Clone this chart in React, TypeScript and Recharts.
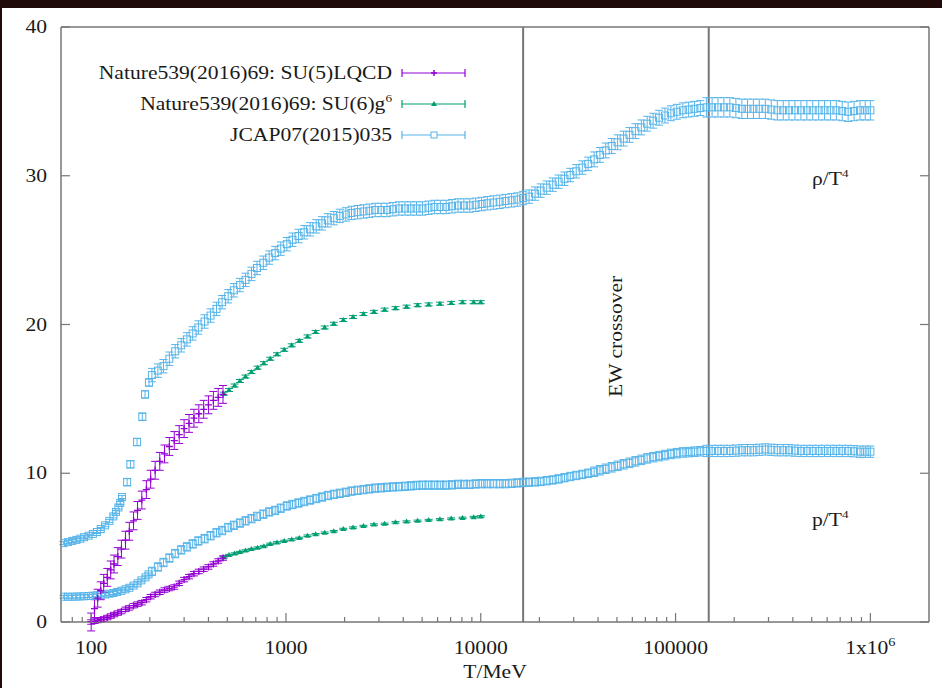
import React from 'react';
import { ScatterChart, Scatter, XAxis, YAxis, ErrorBar, ReferenceLine, ReferenceDot, Legend } from 'recharts';

const FONT = '"Liberation Serif", "Times New Roman", serif';
const INK = '#1a1a1a';
const FRAME = '#767676';
const PURPLE = '#9400d3';
const GREEN = '#009e73';
const BLUE = '#56b4e9';

// axis ticks
const majorTicks = [100, 1000, 10000, 100000, 1000000];
const minorTicks = [
  80, 90, 200, 300, 400, 500, 600, 700, 800, 900,
  2000, 3000, 4000, 5000, 6000, 7000, 8000, 9000,
  20000, 30000, 40000, 50000, 60000, 70000, 80000, 90000,
  200000, 300000, 400000, 500000, 600000, 700000, 800000, 900000,
];
const xTicks = [...minorTicks, ...majorTicks].sort((a, b) => a - b);
const yTicks = [0, 10, 20, 30, 40];

// EW crossover lines (MeV)
const ewLines = [16500, 148000];

// JCAP07(2015)035, rho/T^4 : [T, value]
const jcapRho: [number, number][] = [
  [72, 5.3], [76, 5.37], [80, 5.45], [84, 5.52], [88, 5.6], [92, 5.7], [97, 5.8], [102, 5.92], [107, 6.05],
  [112, 6.25], [118, 6.5], [124, 6.8], [130, 7.1], [134, 7.4], [138, 7.7], [141, 8.0], [144, 8.4],
  [153, 9.4], [159, 10.6], [172, 12.1], [183, 13.8], [189, 15.3], [198, 16.1],
  [205, 16.6], [220, 16.9], [235, 17.2], [252, 17.7], [270, 18.2], [290, 18.6], [310, 19.0], [332, 19.4],
  [355, 19.8], [382, 20.2], [410, 20.6], [440, 21.05], [470, 21.5], [505, 21.9], [540, 22.3], [580, 22.65],
  [620, 23.0], [665, 23.4], [710, 23.8], [765, 24.15], [820, 24.5], [880, 24.8], [940, 25.1], [1010, 25.4],
  [1080, 25.7], [1160, 25.95], [1240, 26.2], [1330, 26.4], [1430, 26.6], [1530, 26.8], [1640, 27.0], [1760, 27.15],
  [1890, 27.3], [2030, 27.4], [2170, 27.5], [2330, 27.55], [2500, 27.6], [2680, 27.65], [2870, 27.7], [3080, 27.7],
  [3300, 27.7], [3540, 27.75], [3800, 27.8], [4080, 27.8], [4370, 27.8], [4680, 27.8], [5020, 27.8], [5390, 27.85],
  [5780, 27.9], [6200, 27.9], [6640, 27.9], [7120, 27.95], [7640, 28.0], [8190, 28.0], [8780, 28.0], [9420, 28.05],
  [10100, 28.1], [10800, 28.15], [11600, 28.2], [12500, 28.25], [13400, 28.3], [14400, 28.35], [15400, 28.4], [16500, 28.5],
  [17700, 28.6], [19000, 28.8], [20300, 29.0], [21800, 29.2], [23400, 29.4], [25100, 29.6], [26900, 29.8], [28800, 30.05],
  [30900, 30.3], [33200, 30.55], [35600, 30.8], [38200, 31.1], [40900, 31.4], [43800, 31.7], [47000, 32.0], [50400, 32.25],
  [54100, 32.5], [58000, 32.75], [62200, 33.0], [66700, 33.25], [71500, 33.5], [76700, 33.7], [82300, 33.9], [88200, 34.05],
  [94600, 34.2], [101500, 34.3], [109000, 34.4], [116700, 34.45], [125000, 34.5], [134000, 34.55], [144000, 34.6], [154000, 34.6],
  [165000, 34.6], [177000, 34.6], [190000, 34.6], [204000, 34.55], [219000, 34.5], [234000, 34.5], [251000, 34.5], [269000, 34.5],
  [289000, 34.5], [310000, 34.45], [333000, 34.4], [357000, 34.4], [382000, 34.4], [410000, 34.4], [440000, 34.4], [472000, 34.4],
  [506000, 34.4], [543000, 34.4], [582000, 34.4], [624000, 34.4], [669000, 34.4], [717000, 34.35], [769000, 34.3], [825000, 34.35],
  [885000, 34.4], [941000, 34.4], [1000000, 34.4],
];
// error bar half-height, by temperature band: [from T, err]
const jcapRhoErr: [number, number][] = [[70, 0.1], [150, 0.25], [200, 0.45], [3000, 0.45], [38000, 0.5], [140000, 0.65]];

// JCAP07(2015)035, p/T^4 : [T, value]
const jcapP: [number, number][] = [
  [72, 1.7], [76, 1.7], [80, 1.7], [84, 1.71], [88, 1.72], [92, 1.73], [97, 1.75], [102, 1.77], [107, 1.8],
  [112, 1.83], [118, 1.85], [124, 1.9], [130, 1.95], [136, 2.02], [143, 2.1], [150, 2.2], [157, 2.3], [165, 2.45],
  [173, 2.6], [181, 2.8], [190, 3.0], [197, 3.2],
  [205, 3.4], [220, 3.7], [235, 4.0], [252, 4.3], [270, 4.6], [290, 4.85], [310, 5.05], [332, 5.25],
  [355, 5.45], [382, 5.6], [410, 5.8], [440, 6.0], [470, 6.15], [505, 6.35], [540, 6.5], [580, 6.65],
  [620, 6.8], [665, 6.95], [710, 7.1], [765, 7.25], [820, 7.4], [880, 7.5], [940, 7.65], [1010, 7.8],
  [1080, 7.9], [1160, 8.0], [1240, 8.1], [1330, 8.2], [1430, 8.3], [1530, 8.4], [1640, 8.5], [1760, 8.58],
  [1890, 8.65], [2030, 8.72], [2170, 8.8], [2330, 8.85], [2500, 8.9], [2680, 8.95], [2870, 9.0], [3080, 9.02],
  [3300, 9.05], [3540, 9.08], [3800, 9.1], [4080, 9.12], [4370, 9.15], [4680, 9.18], [5020, 9.2], [5390, 9.2],
  [5780, 9.2], [6200, 9.2], [6640, 9.2], [7120, 9.22], [7640, 9.25], [8190, 9.25], [8780, 9.25], [9420, 9.28],
  [10100, 9.3], [10800, 9.3], [11600, 9.3], [12500, 9.3], [13400, 9.3], [14400, 9.32], [15400, 9.35], [16500, 9.38],
  [17700, 9.4], [19000, 9.42], [20300, 9.45], [21800, 9.5], [23400, 9.55], [25100, 9.62], [26900, 9.7], [28800, 9.78],
  [30900, 9.85], [33200, 9.92], [35600, 10.0], [38200, 10.1], [40900, 10.2], [43800, 10.3], [47000, 10.4], [50400, 10.5],
  [54100, 10.6], [58000, 10.7], [62200, 10.8], [66700, 10.9], [71500, 11.0], [76700, 11.08], [82300, 11.15], [88200, 11.22],
  [94600, 11.3], [101500, 11.35], [109000, 11.4], [116700, 11.42], [125000, 11.45], [134000, 11.48], [144000, 11.5], [154000, 11.5],
  [165000, 11.5], [177000, 11.5], [190000, 11.5], [204000, 11.52], [219000, 11.55], [234000, 11.55], [251000, 11.55], [269000, 11.58],
  [289000, 11.6], [310000, 11.58], [333000, 11.55], [357000, 11.55], [382000, 11.55], [410000, 11.52], [440000, 11.5], [472000, 11.5],
  [506000, 11.5], [543000, 11.5], [582000, 11.5], [624000, 11.5], [669000, 11.5], [717000, 11.5], [769000, 11.5], [825000, 11.48],
  [885000, 11.45], [941000, 11.45], [1000000, 11.45],
];
const jcapPErr: [number, number][] = [[70, 0.1], [200, 0.28], [3000, 0.28], [38000, 0.32], [140000, 0.38]];

// Nature539(2016)69: SU(5) LQCD
const su5T = [100, 104, 108, 112, 116, 121, 126, 131, 137, 143, 150, 157, 165, 173, 182, 192, 202, 213, 225, 238, 252, 267, 283, 300, 318, 337, 357, 378, 400, 424, 449, 475];
const su5Rho = [0.0, 0.9, 1.6, 2.1, 2.6, 3.0, 3.5, 3.9, 4.4, 4.9, 5.5, 6.1, 6.8, 7.5, 8.2, 8.9, 9.6, 10.2, 10.8, 11.3, 11.8, 12.2, 12.6, 13.0, 13.35, 13.7, 14.0, 14.3, 14.6, 14.9, 15.1, 15.3];
const su5P = [0.0, 0.05, 0.1, 0.15, 0.2, 0.3, 0.4, 0.5, 0.6, 0.7, 0.85, 0.95, 1.1, 1.2, 1.3, 1.5, 1.7, 1.85, 2.0, 2.15, 2.25, 2.35, 2.6, 2.85, 3.05, 3.25, 3.4, 3.55, 3.7, 3.9, 4.1, 4.3];

// Nature539(2016)69: SU(6) g^6
const su6T = [480, 510, 545, 580, 620, 665, 715, 770, 830, 900, 980, 1070, 1170, 1290, 1420, 1580, 1760, 1970, 2210, 2500, 2830, 3210, 3650, 4160, 4740, 5400, 6170, 7050, 8060, 9200, 10000];
const su6Rho = [15.35, 15.6, 15.9, 16.2, 16.5, 16.8, 17.1, 17.4, 17.7, 18.0, 18.3, 18.6, 18.9, 19.2, 19.5, 19.8, 20.05, 20.3, 20.5, 20.7, 20.85, 21.0, 21.1, 21.2, 21.3, 21.35, 21.4, 21.45, 21.5, 21.5, 21.5];
const su6P = [4.35, 4.5, 4.6, 4.7, 4.8, 4.9, 5.0, 5.1, 5.25, 5.35, 5.45, 5.55, 5.65, 5.8, 5.9, 6.0, 6.1, 6.25, 6.35, 6.45, 6.55, 6.6, 6.7, 6.75, 6.8, 6.85, 6.9, 6.95, 7.0, 7.05, 7.1];

const errAt = (bands: [number, number][], t: number) => {
  let e = bands[0][1];
  for (const [from, err] of bands) if (t >= from) e = err;
  return e;
};
const pairRows = (pts: [number, number][], bands: [number, number][]) =>
  pts.map(([t, v]) => ({ t, v, e: errAt(bands, t) }));
const rows = (ts: number[], ys: number[], e: number) => ts.map((t, i) => ({ t, v: ys[i], e }));

const MAJOR_LEN = 9;
const MINOR_LEN = 5;

function Square(props: any) {
  const { cx, cy } = props;
  return <rect x={cx - 3.5} y={cy - 3.5} width={7} height={7} fill="none" stroke={BLUE} strokeWidth={1} />;
}
function Cross(props: any) {
  const { cx, cy } = props;
  return <path d={`M${cx - 3.5},${cy}h7M${cx},${cy - 3.5}v7`} stroke={PURPLE} strokeWidth={1.3} fill="none" />;
}
function Tri(props: any) {
  const { cx, cy } = props;
  return <path d={`M${cx},${cy - 3}L${cx + 3},${cy + 2}L${cx - 3},${cy + 2}Z`} fill={GREEN} />;
}

function BottomTick(props: any) {
  const { x, y, payload } = props;
  const v = payload.value;
  const major = majorTicks.includes(v);
  return (
    <g>
      <line x1={x} x2={x} y1={y} y2={y - (major ? MAJOR_LEN : MINOR_LEN)} stroke={FRAME} strokeWidth={1.2} />
      {major && (
        <text transform={`translate(${x},${y + 32}) scale(1.2,1)`} textAnchor="middle" fontFamily={FONT} fontSize={18} fill={INK}>
          {v === 1000000 ? <>1x10<tspan dy={-8} fontSize={12}>6</tspan></> : v}
        </text>
      )}
    </g>
  );
}

function TopTick(props: any) {
  const { x, y, payload } = props;
  const major = majorTicks.includes(payload.value);
  return <line x1={x} x2={x} y1={y} y2={y + (major ? MAJOR_LEN : MINOR_LEN)} stroke={FRAME} strokeWidth={1.2} />;
}

function LeftTick(props: any) {
  const { x, y, payload } = props;
  return (
    <g>
      <line x1={x} x2={x + MAJOR_LEN} y1={y} y2={y} stroke={FRAME} strokeWidth={1.2} />
      <text transform={`translate(${x - 14},${y + 6}) scale(1.2,1)`} textAnchor="end" fontFamily={FONT} fontSize={18} fill={INK}>
        {payload.value}
      </text>
    </g>
  );
}

function RightTick(props: any) {
  const { x, y } = props;
  return <line x1={x} x2={x - MAJOR_LEN} y1={y} y2={y} stroke={FRAME} strokeWidth={1.2} />;
}

function AxisTitle(props: any) {
  const { viewBox } = props;
  const cx = viewBox.x + viewBox.width / 2;
  return (
    <text transform={`translate(${cx},${viewBox.y + 56}) scale(1.2,1)`} textAnchor="middle" fontFamily={FONT} fontSize={18} fill={INK}>
      T/MeV
    </text>
  );
}

function Annot(props: any) {
  const { viewBox, text, sup, rotate } = props;
  const x = viewBox.x;
  const y = viewBox.y;
  if (rotate) {
    return (
      <text transform={`translate(${x},${y}) rotate(-90) scale(1.2,1)`} textAnchor="middle" dominantBaseline="central" fontFamily={FONT} fontSize={18} fill={INK}>
        {text}
      </text>
    );
  }
  return (
    <text transform={`translate(${x},${y}) scale(1.2,1)`} fontFamily={FONT} fontSize={18} fill={INK}>
      {text}
      {sup && <tspan dy={-8} fontSize={11}>{sup}</tspan>}
    </text>
  );
}

const legendItems = [
  { label: 'Nature539(2016)69: SU(5)LQCD', sup: '', color: PURPLE, mark: 'cross' },
  { label: 'Nature539(2016)69: SU(6)g', sup: '6', color: GREEN, mark: 'tri' },
  { label: 'JCAP07(2015)035', sup: '', color: BLUE, mark: 'square' },
];

function LegendBox() {
  return (
    <svg width={420} height={100}>
      {legendItems.map((it, i) => {
        const y = 15 + i * 31;
        const cx = 374;
        return (
          <g key={it.label}>
            <text transform={`translate(332,${y + 6}) scale(1.2,1)`} textAnchor="end" fontFamily={FONT} fontSize={18} fill={INK}>
              {it.label}
              {it.sup && <tspan dy={-8} fontSize={11}>{it.sup}</tspan>}
            </text>
            <path d={`M342,${y}H405M342,${y - 4}v8M405,${y - 4}v8`} stroke={it.color} strokeWidth={1.2} fill="none" />
            {it.mark === 'cross' && <path d={`M${cx - 3},${y}h6M${cx},${y - 3}v6`} stroke={it.color} strokeWidth={1.5} />}
            {it.mark === 'tri' && <path d={`M${cx},${y - 3}L${cx + 3},${y + 2}L${cx - 3},${y + 2}Z`} fill={it.color} />}
            {it.mark === 'square' && <rect x={cx - 3} y={y - 3} width={6} height={6} fill="white" stroke={it.color} />}
          </g>
        );
      })}
    </svg>
  );
}

export default function App() {
  const series = [
    { key: 'jr', data: pairRows(jcapRho, jcapRhoErr), color: BLUE, shape: Square },
    { key: 'jp', data: pairRows(jcapP, jcapPErr), color: BLUE, shape: Square },
    { key: 's6r', data: rows(su6T, su6Rho, 0.1), color: GREEN, shape: Tri },
    { key: 's6p', data: rows(su6T, su6P, 0.05), color: GREEN, shape: Tri },
    { key: 's5r', data: rows(su5T, su5Rho, 0.6), color: PURPLE, shape: Cross },
    { key: 's5p', data: rows(su5T, su5P, 0.15), color: PURPLE, shape: Cross },
  ];

  return (
    <div style={{ position: 'absolute', left: 0, top: 0, width: 942, height: 688, background: '#fff', overflow: 'hidden' }}>
      <ScatterChart width={942} height={688} margin={{ top: 0, right: 0, bottom: 0, left: 0 }}>
        <XAxis
          type="number"
          dataKey="t"
          scale="log"
          domain={[70, 2000000]}
          allowDataOverflow
          ticks={xTicks}
          interval={0}
          height={66}
          tickSize={0}
          tickMargin={0}
          tickLine={false}
          axisLine={{ stroke: FRAME, strokeWidth: 1.5 }}
          tick={BottomTick}
          label={<AxisTitle />}
        />
        <XAxis
          xAxisId="top"
          orientation="top"
          type="number"
          scale="log"
          domain={[70, 2000000]}
          allowDataOverflow
          ticks={xTicks}
          interval={0}
          height={27}
          tickSize={0}
          tickMargin={0}
          tickLine={false}
          axisLine={{ stroke: FRAME, strokeWidth: 1.5 }}
          tick={TopTick}
        />
        <YAxis
          type="number"
          dataKey="v"
          domain={[0, 40]}
          allowDataOverflow
          ticks={yTicks}
          interval={0}
          width={61}
          tickSize={0}
          tickMargin={0}
          tickLine={false}
          axisLine={{ stroke: FRAME, strokeWidth: 1.5 }}
          tick={LeftTick}
        />
        <YAxis
          yAxisId="right"
          orientation="right"
          type="number"
          domain={[0, 40]}
          allowDataOverflow
          ticks={yTicks}
          interval={0}
          width={13}
          tickSize={0}
          tickMargin={0}
          tickLine={false}
          axisLine={{ stroke: FRAME, strokeWidth: 1.5 }}
          tick={RightTick}
        />
        {ewLines.map((t) => (
          <ReferenceLine key={t} x={t} stroke={FRAME} strokeWidth={2} />
        ))}
        {series.map((s) => (
          <Scatter key={s.key} data={s.data} shape={s.shape} isAnimationActive={false} legendType="none">
            <ErrorBar dataKey="e" direction="y" width={4} stroke={s.color} strokeWidth={1} isAnimationActive={false} />
          </Scatter>
        ))}
        <ReferenceDot x={49000} y={19.2} r={0} fill="none" stroke="none" label={<Annot text="EW crossover" rotate />} />
        <ReferenceDot x={502000} y={29.4} r={0} fill="none" stroke="none" label={<Annot text="ρ/T" sup="4" />} />
        <ReferenceDot x={502000} y={6.45} r={0} fill="none" stroke="none" label={<Annot text="p/T" sup="4" />} />
        <Legend
          layout="horizontal"
          verticalAlign="middle"
          align="center"
          content={() => <LegendBox />}
          wrapperStyle={{ left: 60, top: 58, width: 420, height: 100 }}
        />
      </ScatterChart>
      <div style={{ position: 'absolute', left: 0, top: 0, width: 942, height: 8, background: '#1f0a09' }} />
      <div style={{ position: 'absolute', left: 0, top: 0, width: 2, height: 688, background: '#1f0a09' }} />
    </div>
  );
}
